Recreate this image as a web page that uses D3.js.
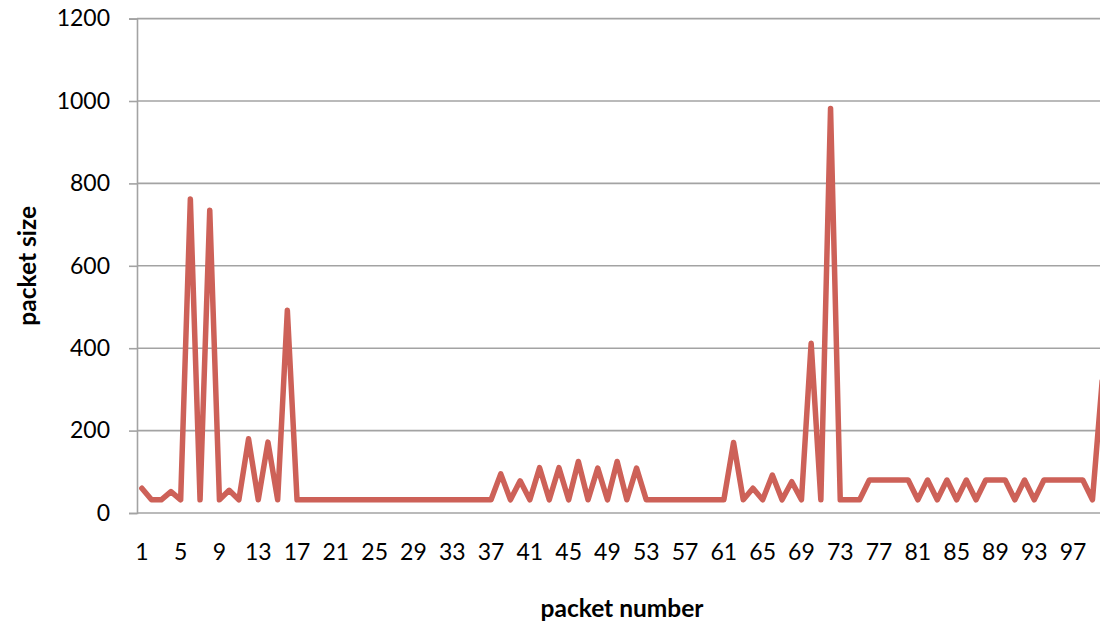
<!DOCTYPE html>
<html>
<head>
<meta charset="utf-8">
<script src="https://cdn.jsdelivr.net/npm/d3@7"></script>
<style>
  html, body { margin: 0; padding: 0; background: #ffffff; }
  svg { display: block; }
  text { font-family: Lato, "Open Sans", sans-serif; fill: #000; }
</style>
</head>
<body>
<svg id="chart" width="1100" height="623"></svg>
<script>
// ---- data ----
const categories = [
  1,2,3,4,5,6,7,8,9,10,11,12,13,14,15,16,17,18,19,20,
  21,22,23,24,25,26,27,28,29,30,31,32,33,34,35,36,37,38,39,40,
  41,42,43,44,45,46,47,48,49,50,51,52,53,54,55,56,57,58,59,60,
  61,62,63,64,65,66,67,68,69,70,71,72,73,74,75,76,77,78,79,80,
  81,82,83,84,85,86,87,88,89,90,91,92,93,94,95,96,97,98,99,100
];
const packetSize = [
  60, 32, 32, 52, 32, 762, 32, 735, 32, 55,
  32, 180, 32, 172, 32, 492, 32, 32, 32, 32,
  32, 32, 32, 32, 32, 32, 32, 32, 32, 32,
  32, 32, 32, 32, 32, 32, 32, 95, 32, 78,
  32, 110, 32, 110, 32, 125, 32, 109, 32, 125,
  32, 109, 32, 32, 32, 32, 32, 32, 32, 32,
  32, 171, 32, 60, 32, 92, 32, 76, 32, 412,
  32, 982, 32, 32, 32, 80, 80, 80, 80, 80,
  32, 80, 32, 80, 32, 80, 32, 80, 80, 80,
  32, 80, 32, 80, 80, 80, 80, 80, 32, 320
];
const xTickLabels = [1,5,9,13,17,21,25,29,33,37,41,45,49,53,57,61,65,69,73,77,81,85,89,93,97];
const yTickValues = [0,200,400,600,800,1000,1200];
const xTitle = "packet number";
const yTitle = "packet size";

// ---- layout ----
const svg = d3.select("#chart");
const plot = { left: 137, right: 1107, top: 18.6, bottom: 513 };
const gridColor = "#a3a3a3";
const tickFont = "23px";
const titleFont = "24.5px";

const x = d3.scaleBand().domain(categories).range([plot.left, plot.right]).padding(0);
const y = d3.scaleLinear().domain([0, 1200]).range([plot.bottom, plot.top]);
const cx = d => x(d) + x.bandwidth() / 2;

// gridlines
svg.append("g")
  .selectAll("line")
  .data(yTickValues)
  .join("line")
  .attr("x1", plot.left).attr("x2", plot.right)
  .attr("y1", d => y(d)).attr("y2", d => y(d))
  .attr("stroke", gridColor).attr("stroke-width", 1.6);

// y axis
const yAxis = d3.axisLeft(y).tickValues(yTickValues).tickSize(8).tickPadding(19).tickFormat(d3.format("d"));
const gy = svg.append("g").attr("transform", `translate(${plot.left},0)`).call(yAxis);
gy.select(".domain").attr("stroke", gridColor).attr("stroke-width", 1.6);
gy.selectAll(".tick line").attr("stroke", gridColor).attr("stroke-width", 1.6);
gy.selectAll(".tick text").style("font-size", tickFont).style("font-family", "Lato, 'Open Sans', sans-serif").attr("fill", "#000");

// x axis
const xAxis = d3.axisBottom(x).tickValues(xTickLabels).tickSize(0).tickPadding(31);
const gx = svg.append("g").attr("transform", `translate(0,${plot.bottom})`).call(xAxis);
gx.select(".domain").remove();
gx.selectAll(".tick text").style("font-size", tickFont).style("font-family", "Lato, 'Open Sans', sans-serif").attr("fill", "#000");

// line
const line = d3.line()
  .x((d, i) => cx(categories[i]))
  .y(d => y(d));
svg.append("path")
  .datum(packetSize)
  .attr("d", line)
  .attr("fill", "none")
  .attr("stroke", "#cd6158")
  .attr("stroke-width", 5.5)
  .attr("stroke-linejoin", "round")
  .attr("stroke-linecap", "round");

// titles
svg.append("text")
  .attr("x", (plot.left + plot.right) / 2)
  .attr("y", 617)
  .attr("text-anchor", "middle")
  .style("font-size", titleFont).style("font-weight", "bold")
  .text(xTitle);

svg.append("text")
  .attr("transform", `translate(36,${(plot.top + plot.bottom) / 2}) rotate(-90)`)
  .attr("text-anchor", "middle")
  .style("font-size", titleFont).style("font-weight", "bold")
  .text(yTitle);
</script>
</body>
</html>
